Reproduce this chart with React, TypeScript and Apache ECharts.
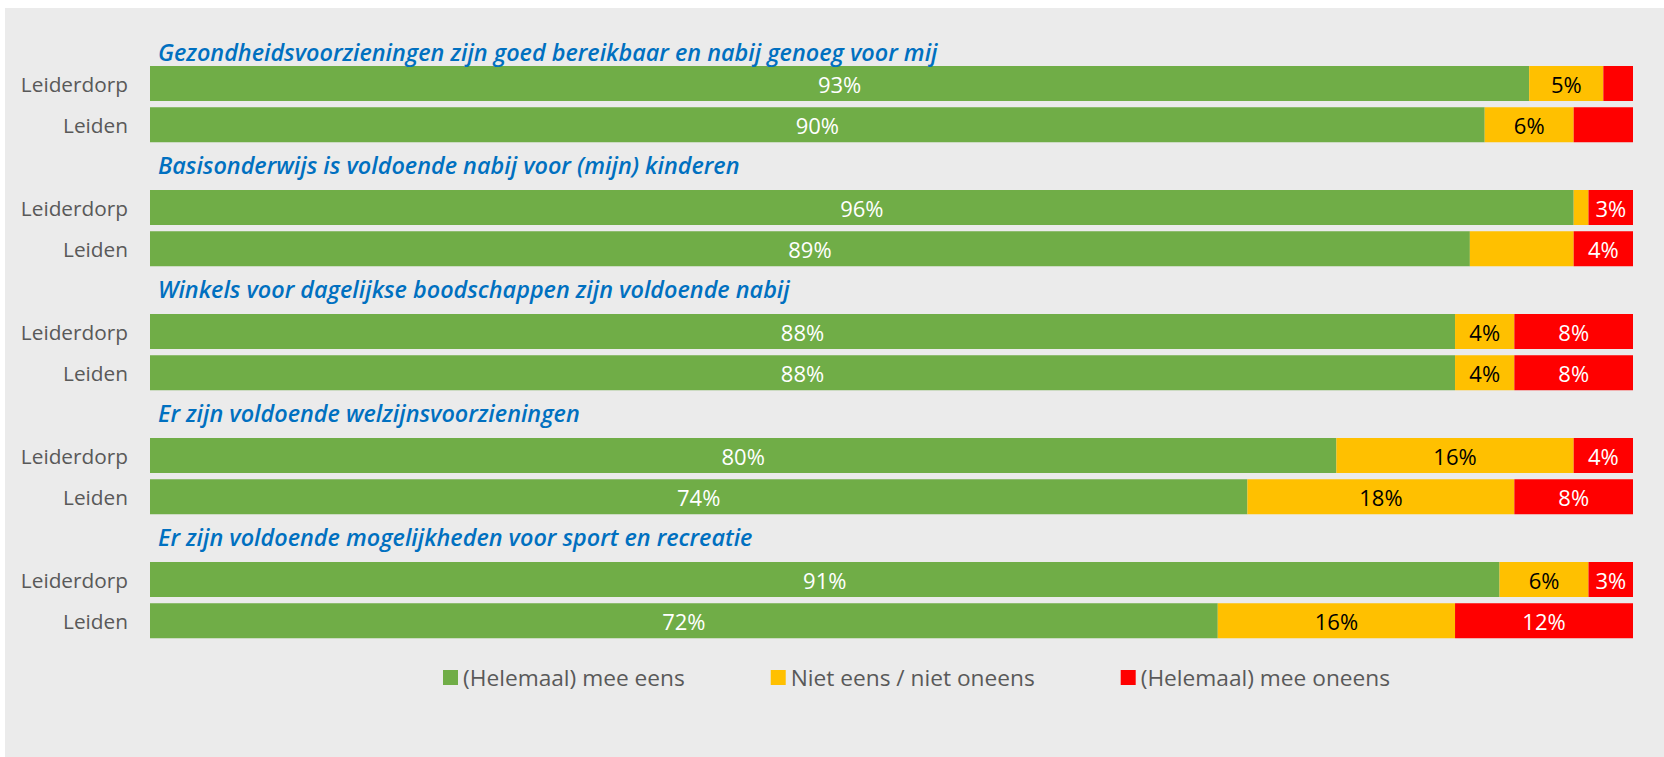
import React, { useEffect, useRef } from "react";
import * as echarts from "echarts";

const questions = [
  "Gezondheidsvoorzieningen zijn goed bereikbaar en nabij genoeg voor mij",
  "Basisonderwijs is voldoende nabij voor (mijn) kinderen",
  "Winkels voor dagelijkse boodschappen zijn voldoende nabij",
  "Er zijn voldoende welzijnsvoorzieningen",
  "Er zijn voldoende mogelijkheden voor sport en recreatie",
];
const places = ["Leiderdorp", "Leiden"];
const seriesNames = ["(Helemaal) mee eens", "Niet eens / niet oneens", "(Helemaal) mee oneens"];

// one value per bar, order: Q1 Leiderdorp, Q1 Leiden, Q2 Leiderdorp, ...
const meeEens = [93, 90, 96, 89, 88, 88, 80, 74, 91, 72];
const neutraal = [5, 6, 1, 7, 4, 4, 16, 18, 6, 16];
const meeOneens = [2, 4, 3, 4, 8, 8, 4, 8, 3, 12];
// which value labels are visible in the original
const showEens = [true, true, true, true, true, true, true, true, true, true];
const showNeutraal = [true, true, false, false, true, true, true, true, true, true];
const showOneens = [false, false, true, true, true, true, true, true, true, true];

const colors = ["#70AD47", "#FFC000", "#FF0000"];
const labelColors = ["#FFFFFF", "#000000", "#FFFFFF"];
const FONT = "Open Sans";

export default function App() {
  const ref = useRef<HTMLDivElement>(null);

  useEffect(() => {
    if (!ref.current) return;
    const chart = echarts.init(ref.current, undefined, { renderer: "svg" });

    const keys: string[] = [];
    const display: Record<string, string> = {};
    const rowKind: { type: "title" | "bar"; q: number; idx: number }[] = [];
    questions.forEach((q, qi) => {
      const tk = `t${qi}`;
      keys.push(tk);
      display[tk] = "";
      rowKind.push({ type: "title", q: qi, idx: -1 });
      places.forEach((p, pi) => {
        const k = `r${qi}_${pi}`;
        keys.push(k);
        display[k] = p;
        rowKind.push({ type: "bar", q: qi, idx: qi * places.length + pi });
      });
    });

    const valueSets = [meeEens, neutraal, meeOneens];
    const showSets = [showEens, showNeutraal, showOneens];

    const dataSeries = seriesNames.map((name, si) => ({
      name,
      type: "bar",
      stack: "total",
      barWidth: 35,
      itemStyle: { color: colors[si] },
      label: {
        show: true,
        position: "inside",
        color: labelColors[si],
        fontSize: 22,
        fontFamily: FONT,
        formatter: (p: any) => `${p.value}%`,
      },
      data: rowKind.map((r) =>
        r.type === "title"
          ? "-"
          : { value: valueSets[si][r.idx], label: { show: showSets[si][r.idx] } }
      ),
    }));

    const titleSeries = {
      name: "titles",
      type: "bar",
      stack: "total",
      barWidth: 35,
      itemStyle: { color: "transparent" },
      label: {
        show: true,
        position: "right",
        distance: 8,
        color: "#0070C0",
        fontSize: 23.4,
        fontStyle: "italic",
        fontWeight: 600,
        fontFamily: FONT,
        formatter: (p: any) => questions[rowKind[p.dataIndex].q],
      },
      data: rowKind.map((r) =>
        r.type === "title"
          ? r.q === 0
            ? { value: 0, label: { offset: [0, 10] } }
            : { value: 0, label: { offset: [0, -1] } }
          : "-"
      ),
    };

    chart.setOption({
      animation: false,
      backgroundColor: "#EBEBEB",
      textStyle: { fontFamily: FONT },
      grid: { left: 145, right: 31, top: 13.5, bottom: 115.5, containLabel: false },
      xAxis: { type: "value", min: 0, max: 100, show: false },
      yAxis: {
        type: "category",
        inverse: true,
        data: keys,
        axisLine: { show: false },
        axisTick: { show: false },
        splitLine: { show: false },
        axisLabel: {
          color: "#595959",
          fontSize: 20.8,
          fontFamily: FONT,
          margin: 22,
          formatter: (v: string) => display[v] ?? "",
        },
      },
      legend: {
        data: seriesNames,
        left: 433,
        top: 653,
        icon: "rect",
        itemWidth: 15,
        itemHeight: 15,
        itemGap: 86,
        textStyle: { color: "#595959", fontSize: 22.7, fontFamily: FONT },
        selectedMode: false,
      },
      series: [titleSeries, ...dataSeries],
    });

    return () => chart.dispose();
  }, []);

  return (
    <div
      style={{
        position: "fixed",
        left: 0,
        top: 0,
        width: 1664,
        height: 757,
        background: "#FFFFFF",
      }}
    >
      <div
        ref={ref}
        style={{ position: "absolute", left: 5, top: 8, width: 1659, height: 749 }}
      />
    </div>
  );
}
